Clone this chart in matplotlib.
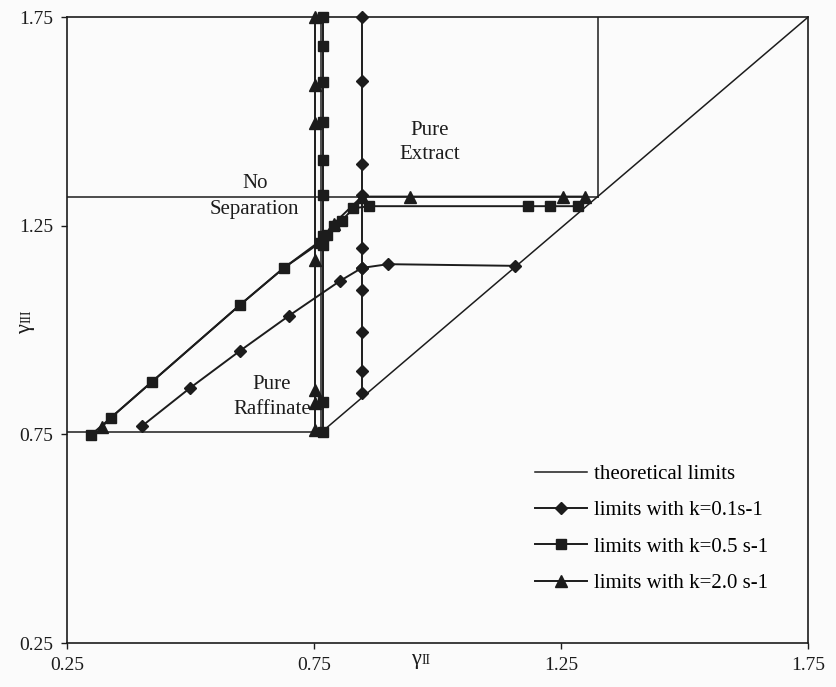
import matplotlib
matplotlib.use('Agg')
import matplotlib.pyplot as plt

plt.rcParams['font.family'] = ['Liberation Serif', 'DejaVu Serif']

# theoretical limits (line segments)
theory_segments = [
    ([0.25, 0.765], [0.755, 0.755]),
    ([0.765, 0.765], [0.755, 1.75]),
    ([0.765, 1.75], [0.755, 1.75]),
    ([0.25, 1.325], [1.32, 1.32]),
    ([1.325, 1.325], [1.32, 1.75]),
]

# k = 0.1 s-1 (diamonds)
k01_vert_x = [0.847] * 10
k01_vert_y = [1.75, 1.597, 1.398, 1.324, 1.196, 1.149, 1.096, 0.996, 0.902, 0.849]
k01_diag_x = [0.402, 0.499, 0.600, 0.699, 0.803, 0.847, 0.900, 1.157]
k01_diag_y = [0.770, 0.861, 0.950, 1.034, 1.118, 1.149, 1.158, 1.154]

# k = 0.5 s-1 (squares)
k05_vert_x = [0.768] * 10
k05_vert_y = [1.75, 1.681, 1.594, 1.499, 1.407, 1.324, 1.225, 1.205, 0.828, 0.756]
k05_diag_x = [0.299, 0.339, 0.422, 0.600, 0.689, 0.762, 0.776, 0.790, 0.806, 0.830, 0.862, 1.183, 1.228, 1.284]
k05_diag_y = [0.749, 0.790, 0.876, 1.060, 1.149, 1.209, 1.228, 1.250, 1.262, 1.292, 1.297, 1.297, 1.297, 1.297]

# k = 2.0 s-1 (triangles)
k20_vert_x = [0.752] * 7
k20_vert_y = [1.75, 1.587, 1.496, 1.168, 0.857, 0.826, 0.760]
k20_diag_x = [0.321, 0.339, 0.422, 0.600, 0.689, 0.762, 0.790, 0.847, 0.944, 1.254, 1.299]
k20_diag_y = [0.768, 0.790, 0.876, 1.060, 1.149, 1.213, 1.255, 1.320, 1.320, 1.320, 1.320]
k20_diag_marked = [0, 5, 6, 7, 8, 9, 10]

ticks = [0.25, 0.75, 1.25, 1.75]
ink = '#1c1c1c'

fig = plt.figure(figsize=(8.36, 6.87), dpi=100)
fig.patch.set_facecolor('#fbfbfb')
ax = fig.add_axes([0.080, 0.064, 0.8865, 0.911])
ax.set_facecolor('#fbfbfb')

for i, (sx, sy) in enumerate(theory_segments):
    ax.plot(sx, sy, color=ink, lw=1.1, zorder=2,
            label='theoretical limits' if i == 0 else None)

mk = dict(color=ink, lw=1.4, clip_on=False, zorder=3)
ax.plot(k20_vert_x, k20_vert_y, marker='^', ms=8, **mk)
ax.plot(k20_diag_x, k20_diag_y, marker='^', ms=8, markevery=k20_diag_marked,
        label='limits with k=2.0 s-1', **mk)
ax.plot(k05_vert_x, k05_vert_y, marker='s', ms=7, **mk)
ax.plot(k05_diag_x, k05_diag_y, marker='s', ms=7, label='limits with k=0.5 s-1', **mk)
ax.plot(k01_vert_x, k01_vert_y, marker='D', ms=6, **mk)
ax.plot(k01_diag_x, k01_diag_y, marker='D', ms=6, label='limits with k=0.1s-1', **mk)

ax.set_xlim(0.25, 1.75)
ax.set_ylim(0.25, 1.75)
ax.set_xticks(ticks)
ax.set_yticks(ticks)
ax.set_xticklabels(['%.2f' % t for t in ticks])
ax.set_yticklabels(['%.2f' % t for t in ticks])
ax.tick_params(direction='out', length=4, width=1, colors=ink, labelsize=14, pad=6)
for s in ax.spines.values():
    s.set_color(ink)
    s.set_linewidth(1.2)

ax.text(0.985, 1.45, 'Pure\nExtract', ha='center', va='center', fontsize=15,
        color=ink, linespacing=1.4)
ax.text(0.63, 1.32, 'No\nSeparation', ha='center', va='center', fontsize=15,
        color=ink, linespacing=1.5)
ax.text(0.665, 0.84, 'Pure\nRaffinate', ha='center', va='center', fontsize=15,
        color=ink, linespacing=1.4)

# axis labels: gamma with small roman numerals
fig.text(0.503, 0.040, 'γ', fontsize=16, ha='right', va='center', color=ink)
fig.text(0.504, 0.038, 'II', fontsize=10, ha='left', va='center', color=ink)
fig.text(0.030, 0.528, 'γ', fontsize=16, ha='center', va='top', rotation=90, color=ink)
fig.text(0.032, 0.530, 'III', fontsize=10, ha='center', va='bottom', rotation=90, color=ink)

h, l = ax.get_legend_handles_labels()
order = [0, 3, 2, 1]
ax.legend([h[i] for i in order], [l[i] for i in order], loc='upper left',
          bbox_to_anchor=(0.632, 0.285), frameon=False, fontsize=15,
          handlelength=2.5, handletextpad=0.3, labelspacing=0.8,
          borderaxespad=0, borderpad=0)

fig.savefig('out.png', dpi=100, facecolor=fig.get_facecolor())
